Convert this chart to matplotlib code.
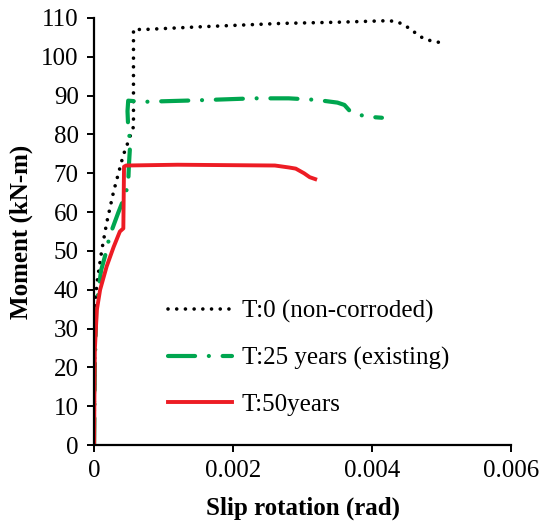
import matplotlib
matplotlib.use('Agg')
import matplotlib.pyplot as plt
import numpy as np

plt.rcParams['font.family'] = ['Liberation Serif', 'DejaVu Serif']

# 数据
x_t0 = [0, 0.00001, 0.00004, 0.00011, 0.00018, 0.00028, 0.00042, 0.00050, 0.000566, 0.000566,
        0.00069, 0.0015, 0.0027, 0.0035, 0.00424, 0.00436, 0.00446, 0.00455, 0.00464, 0.00473,
        0.00483, 0.00494, 0.00504]
y_t0 = [0, 35, 41.7, 50.2, 57.2, 65.3, 74.7, 78.6, 82, 107.1,
        107.0, 107.7, 108.6, 108.9, 109.3, 109.0, 108.2, 107.1, 105.9, 104.8,
        104.2, 103.8, 103.4]

x_t25 = [0, 0.00001, 0.00003, 0.0001, 0.00018, 0.00022, 0.00035, 0.00045, 0.00049, 0.00050,
         0.00052, 0.00049, 0.00048, 0.00049, 0.0007, 0.0015, 0.0023, 0.0028, 0.0032, 0.0035,
         0.0036, 0.00368, 0.0039, 0.00414]
y_t25 = [0, 20, 35, 45, 50.2, 53.7, 60, 64.5, 67.4, 72,
         78, 81.7, 86, 88.7, 88.4, 88.8, 89.3, 89.3, 88.9, 88.2,
         87.6, 86, 84.6, 84.3]

x_t50 = [0, 0.000005, 0.00001, 0.000039, 0.000086, 0.00018, 0.00028, 0.00037, 0.00042, 0.00043,
         0.00046, 0.0012, 0.0026, 0.0028, 0.0029, 0.00302, 0.0031, 0.00318]
y_t50 = [0, 15, 24.5, 34.8, 40, 46, 51, 55, 55.8, 71.7,
         72, 72.2, 72, 71.5, 71.2, 70, 69, 68.5]

labels = ['T:0 (non-corroded)', 'T:25 years (existing)', 'T:50years']

f = plt.figure(figsize=(5.41, 5.28), dpi=100)
ax = f.add_axes([0.174, 0.157, 0.771, 0.809])

ax.plot(x_t0, y_t0, color='black', lw=2.6, linestyle=(0, (0.01, 2.4)),
        dash_capstyle='round', label=labels[0])
ax.plot(x_t25, y_t25, color='#00A64F', lw=3.0, linestyle=(0, (6.5, 3.3, 0.01, 3.3)),
        dash_capstyle='round', label=labels[1])
ax.plot(x_t50, y_t50, color='#ED1C24', lw=2.8, label=labels[2])

ax.set_xlim(0, 0.006)
ax.set_ylim(0, 110)
ax.set_xticks([0, 0.002, 0.004, 0.006])
ax.set_xticklabels(['0', '0.002', '0.004', '0.006'])
ax.set_yticks(np.arange(0, 111, 10))

for s in ['top', 'right']:
    ax.spines[s].set_visible(False)
for s in ['left', 'bottom']:
    ax.spines[s].set_linewidth(1.6)
ax.tick_params(direction='out', length=5, width=1.4, labelsize=18, pad=6)

ax.set_xlabel('Slip rotation (rad)', fontsize=18, fontweight='bold', labelpad=10)
ax.set_ylabel('Moment (kN-m)', fontsize=18, fontweight='bold', labelpad=6)

ax.legend(loc='center left', bbox_to_anchor=(0.147, 0.204), frameon=False, fontsize=18,
          handlelength=2.55, handletextpad=0.4, labelspacing=0.95, borderpad=0)

plt.savefig('out.png')
